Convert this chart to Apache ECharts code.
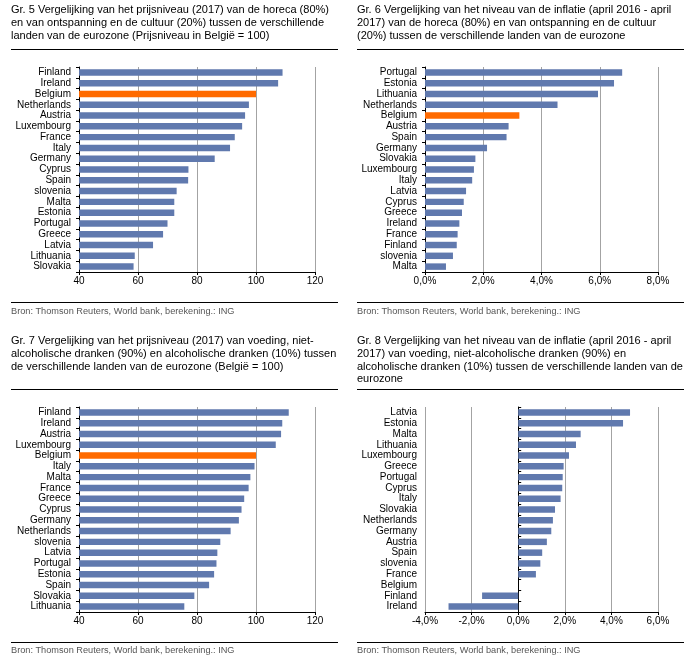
<!DOCTYPE html>
<html>
<head>
<meta charset="utf-8">
<script src="https://cdn.jsdelivr.net/npm/echarts@6/dist/echarts.min.js"></script>
<style>html,body{margin:0;padding:0;background:#fff;}#c{width:694px;height:659px;}</style>
</head>
<body>
<div id="c"></div>
<script>
// Chart 5: price level horeca & culture (Belgium = 100)
var cat5 = ['Finland','Ireland','Belgium','Netherlands','Austria','Luxembourg','France','Italy','Germany','Cyprus','Spain','slovenia','Malta','Estonia','Portugal','Greece','Latvia','Lithuania','Slovakia'];
var val5 = [109.0,107.5,100,97.6,96.3,95.3,92.8,91.2,86.0,77.1,77.0,73.1,72.3,72.3,70.0,68.5,65.1,58.9,58.5];
// Chart 6: inflation horeca & culture (%)
var cat6 = ['Portugal','Estonia','Lithuania','Netherlands','Belgium','Austria','Spain','Germany','Slovakia','Luxembourg','Italy','Latvia','Cyprus','Greece','Ireland','France','Finland','slovenia','Malta'];
var val6 = [6.77,6.49,5.94,4.55,3.24,2.87,2.80,2.13,1.73,1.68,1.62,1.41,1.33,1.27,1.18,1.12,1.09,0.96,0.72];
// Chart 7: price level food & drinks (Belgium = 100)
var cat7 = ['Finland','Ireland','Austria','Luxembourg','Belgium','Italy','Malta','France','Greece','Cyprus','Germany','Netherlands','slovenia','Latvia','Portugal','Estonia','Spain','Slovakia','Lithuania'];
var val7 = [111.1,108.9,108.5,106.7,100,99.5,98.1,97.5,96.0,95.1,94.2,91.4,87.9,86.9,86.6,85.8,84.1,79.1,75.7];
// Chart 8: inflation food & drinks (%)
var cat8 = ['Latvia','Estonia','Malta','Lithuania','Luxembourg','Greece','Portugal','Cyprus','Italy','Slovakia','Netherlands','Germany','Austria','Spain','slovenia','France','Belgium','Finland','Ireland'];
var val8 = [4.80,4.50,2.68,2.48,2.18,1.95,1.91,1.89,1.82,1.58,1.49,1.42,1.23,1.03,0.95,0.76,0,-1.55,-2.99];

var titles = [
  'Gr. 5 Vergelijking van het prijsniveau (2017) van de horeca (80%)\nen van ontspanning en de cultuur (20%) tussen de verschillende\nlanden van de eurozone (Prijsniveau in België = 100)',
  'Gr. 6 Vergelijking van het niveau van de inflatie (april 2016 - april\n2017) van de horeca (80%) en van ontspanning en de cultuur\n(20%) tussen de verschillende landen van de eurozone',
  'Gr. 7 Vergelijking van het prijsniveau (2017) van voeding, niet-\nalcoholische dranken (90%) en alcoholische dranken (10%) tussen\nde verschillende landen van de eurozone (België = 100)',
  'Gr. 8 Vergelijking van het niveau van de inflatie (april 2016 - april\n2017) van voeding, niet-alcoholische dranken (90%) en\nalcoholische dranken (10%) tussen de verschillende landen van de\neurozone'
];
var source = 'Bron: Thomson Reuters, World bank, berekening.: ING';

var BLUE = '#6079AE', ORANGE = '#FF6A00', FONT = 'Liberation Sans';

function mk(cats, vals) {
  return vals.map(function (v, i) {
    return { value: v, itemStyle: { color: cats[i] === 'Belgium' ? ORANGE : BLUE } };
  });
}
function pct(v) { return v.toFixed(1).replace('.', ',') + '%'; }

var grids = [
  { left: 79, top: 67, width: 236, height: 205 },
  { left: 425, top: 67, width: 233, height: 205 },
  { left: 79, top: 407, width: 236, height: 205 },
  { left: 425, top: 407, width: 233, height: 205 }
];
function xAx(gi, min, max, interval, fmt) {
  return {
    type: 'value', gridIndex: gi, min: min, max: max, interval: interval,
    axisLine: { show: true, onZero: false, lineStyle: { color: '#000', width: 1 } },
    axisTick: { show: true, length: 3, lineStyle: { color: '#000' } },
    axisLabel: { color: '#000', fontSize: 10, fontFamily: FONT, margin: 4, formatter: fmt },
    splitLine: { show: true, lineStyle: { color: '#A3A3A3', width: 1 } }
  };
}
function yAx(gi, cats) {
  return {
    type: 'category', gridIndex: gi, data: cats, inverse: true,
    axisLine: { show: true, onZero: false, lineStyle: { color: '#000' } },
    axisTick: { show: true, length: 3, interval: 0, lineStyle: { color: '#000' } },
    axisLabel: { color: '#000', fontSize: 10, fontFamily: FONT, margin: 8, interval: 0 }
  };
}
var y4 = yAx(3, cat8);
y4.axisLine.show = false; y4.axisTick.show = false;
var y4zero = {
  type: 'category', gridIndex: 3, data: cat8, inverse: true,
  axisLine: { show: true, onZero: true, lineStyle: { color: '#000' } },
  axisTick: { show: true, length: 3, interval: 0, lineStyle: { color: '#000' } },
  axisLabel: { show: false }
};

function bar(xi, yi, cats, vals) {
  return { type: 'bar', xAxisIndex: xi, yAxisIndex: yi, data: mk(cats, vals), barWidth: '60%', silent: true, animation: false };
}

var titleComps = [
  { left: 11, top: 4 }, { left: 357, top: 4 }, { left: 11, top: 335 }, { left: 357, top: 335 }
].map(function (p, i) {
  return { text: titles[i], left: p.left, top: p.top, padding: 0,
    textStyle: { fontSize: 11, fontWeight: 'normal', color: '#000', fontFamily: FONT, lineHeight: 12.6 } };
});
var srcPos = [[11, 312], [357, 312], [11, 651], [357, 651]];
srcPos.forEach(function (p) {
  titleComps.push({ text: source, left: p[0], top: p[1] - 5, padding: 0,
    textStyle: { fontSize: 9.2, fontWeight: 'normal', color: '#555', fontFamily: FONT } });
});

function hline(x1, x2, y) {
  return { type: 'line', shape: { x1: x1, y1: y, x2: x2, y2: y }, style: { stroke: '#000', lineWidth: 1.2 }, silent: true };
}

var chart = echarts.init(document.getElementById('c'));
chart.setOption({
  animation: false,
  backgroundColor: '#fff',
  title: titleComps,
  grid: grids,
  xAxis: [
    xAx(0, 40, 120, 20),
    xAx(1, 0, 8, 2, pct),
    xAx(2, 40, 120, 20),
    xAx(3, -4, 6, 2, pct)
  ],
  yAxis: [yAx(0, cat5), yAx(1, cat6), yAx(2, cat7), y4, y4zero],
  series: [
    bar(0, 0, cat5, val5),
    bar(1, 1, cat6, val6),
    bar(2, 2, cat7, val7),
    bar(3, 3, cat8, val8)
  ],
  graphic: [
    hline(11, 338, 49.5), hline(357, 684, 49.5),
    hline(11, 338, 302.5), hline(357, 684, 302.5),
    hline(11, 338, 389.5), hline(357, 684, 389.5),
    hline(11, 338, 642.5), hline(357, 684, 642.5)
  ]
});
</script>
</body>
</html>
